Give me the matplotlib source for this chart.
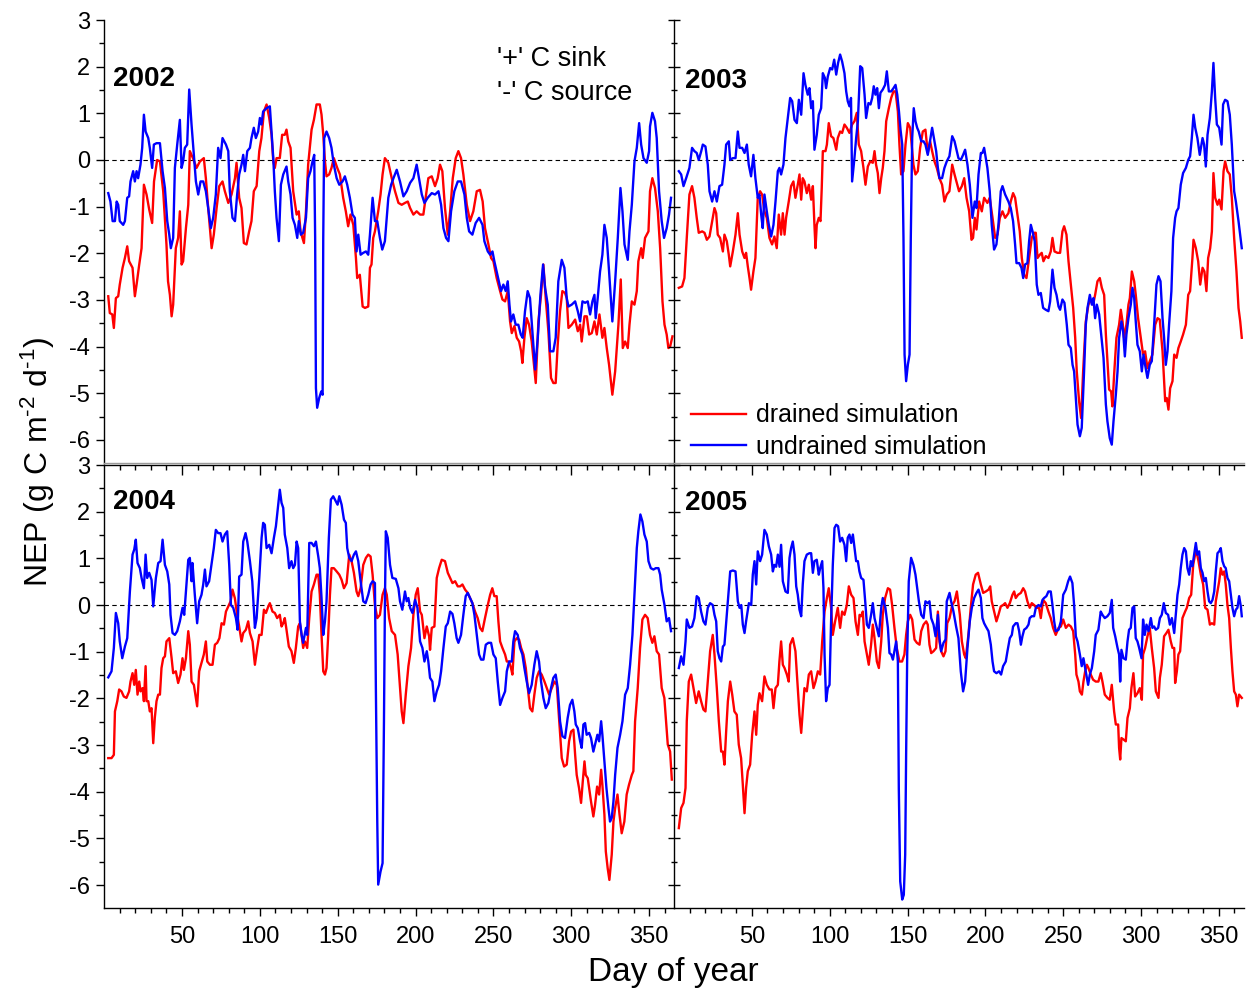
import matplotlib
matplotlib.use("Agg")
import matplotlib.pyplot as plt
from matplotlib.ticker import FixedLocator
import numpy as np

plt.rcParams['font.family'] = ['Liberation Sans', 'DejaVu Sans']
plt.rcParams['mathtext.fontset'] = 'custom'
plt.rcParams['mathtext.rm'] = 'Liberation Sans'
plt.rcParams['mathtext.default'] = 'regular'
plt.rcParams['axes.unicode_minus'] = False

years = ['2002', '2003', '2004', '2005']
series_labels = ['drained simulation', 'undrained simulation']
x_major = [50, 100, 150, 200, 250, 300, 350]
y_major = [-6, -5, -4, -3, -2, -1, 0, 1, 2, 3]

# ---------------- 2002 ----------------
d02_x = [2.6, 3.6, 5.2, 6.2, 7.5, 9.0, 10.0, 11.8, 13.3, 14.8, 16.0, 18.2, 19.7, 20.8, 22.5, 24.0, 25.5, 27.2, 28.9, 30.8,
         32.0, 34.0, 35.8, 37.9, 40.0, 41.0, 42.2, 43.3, 44.3, 46.0, 47.5, 48.6, 49.7, 50.7, 52.5, 54.0, 55.0, 57.0, 59.3, 61.5,
         64.0, 65.3, 66.8, 69.0, 70.4, 72.2, 73.9, 76.0, 77.5, 79.7, 81.8, 84.0, 85.0, 86.7, 88.2, 89.7, 91.4, 93.1, 94.6, 96.1,
         97.9, 99.6, 101.0, 102.6, 104.3, 106.0, 107.5, 108.6, 109.6, 110.7, 112.8, 114.3, 116.0, 117.1, 118.2, 119.7, 121.4,
         123.6, 125.0, 126.1, 128.3, 129.6, 131.0, 133.2, 134.7, 136.4, 138.5, 139.6, 140.7, 141.8, 142.8, 144.5, 146.0, 147.5,
         149.7, 151.4, 153.5, 155.2, 156.7, 158.2, 160.0, 161.7, 162.5, 164.2, 166.0, 167.5, 169.6, 170.7, 171.7, 172.8, 173.9,
         176.0, 177.5, 178.8, 180.3, 182.5, 184.7, 186.8, 189.0, 191.1, 193.2, 195.0, 196.5, 198.6, 200.7, 202.9, 205.0, 206.5,
         208.2, 210.4, 212.5, 214.2, 215.7, 217.2, 218.9, 220.7, 222.2, 223.9, 225.8, 227.5, 229.2, 230.7, 232.9, 235.0, 237.1,
         239.3, 241.4, 243.1, 244.6, 246.8, 248.5, 250.0, 252.1, 254.3, 255.8, 257.5, 259.2, 260.7, 261.8, 263.5, 265.0, 266.5,
         267.8, 268.6, 269.9, 271.4, 272.9, 274.6, 276.3, 277.2, 278.9, 280.6, 282.1, 283.6, 285.3, 287.0, 288.5, 290.0, 291.3,
         292.8, 294.3, 296.0, 297.1, 298.2, 300.3, 302.5, 304.2, 305.7, 306.7, 308.5, 310.0, 311.5, 313.2, 314.9, 316.4, 318.1,
         320.0, 321.3, 322.8, 324.3, 326.4, 328.2, 330.3, 331.8, 333.1, 334.6, 336.3, 337.4, 338.9, 340.6, 342.1, 343.1, 344.9,
         345.9, 347.4, 349.6, 350.6, 352.1, 353.8, 355.6, 357.1, 358.6, 359.9, 361.3, 362.4, 363.5, 365.0]
d02_y = [-2.92, -3.28, -3.31, -3.6, -2.96, -2.92, -2.67, -2.31, -2.1, -1.85, -2.17, -2.31, -2.92, -2.67, -2.24, -1.89, -0.53,
         -0.74, -1.06, -1.35, -0.46, 0.0, -0.03, -0.67, -1.81, -2.6, -2.89, -3.35, -3.1, -1.89, -1.67, -1.1, -2.24, -2.17, -1.46,
         -0.96, 0.19, 0.04, -0.17, -0.03, 0.04, -0.39, -1.03, -1.89, -1.6, -1.03, -0.56, -0.46, -0.67, -0.92, -0.74, -0.39, -0.06,
         -0.81, -1.03, -1.78, -1.81, -1.53, -1.31, -0.67, -0.56, 0.19, 0.47, 1.04, 1.19, 0.9, 0.54, -0.03, -0.17, 0.04, 0.04, 0.54,
         0.54, 0.65, 0.4, 0.26, -0.67, -1.17, -1.1, -1.53, -1.78, -1.1, -0.1, 0.65, 0.86, 1.19, 1.19, 0.97, 0.54, -0.03, -0.35,
         -0.31, -0.17, 0.04, -0.17, -0.31, -0.81, -1.1, -1.42, -1.17, -1.39, -2.1, -2.53, -2.46, -3.14, -3.17, -3.14, -2.31, -2.24,
         -1.67, -1.53, -1.1, -0.74, -0.31, 0.04, -0.06, -0.39, -0.67, -0.92, -0.96, -0.92, -0.89, -1.03, -1.17, -1.1, -1.17, -1.17,
         -0.81, -0.39, -0.35, -0.56, -0.39, -0.1, -0.24, -1.03, -1.6, -1.1, -0.39, 0.04, 0.19, 0.04, -0.31, -0.96, -1.31, -1.1,
         -0.67, -0.64, -0.89, -1.46, -1.81, -2.1, -2.17, -2.53, -2.81, -2.99, -3.03, -2.81, -3.46, -3.71, -3.56, -3.81, -3.89,
         -4.1, -4.35, -3.81, -3.39, -3.53, -3.89, -4.46, -4.78, -3.46, -2.89, -2.24, -2.96, -3.67, -4.67, -4.78, -4.78, -3.96,
         -3.24, -2.81, -2.85, -2.96, -3.6, -3.53, -3.42, -3.67, -3.53, -3.89, -3.35, -3.35, -3.74, -3.71, -3.46, -3.74, -3.31,
         -3.81, -3.6, -4.03, -4.39, -5.03, -4.53, -3.53, -2.56, -4.03, -3.89, -4.03, -3.53, -3.03, -3.1, -2.81, -2.17, -1.89,
         -2.1, -1.67, -1.53, -0.67, -0.39, -0.6, -1.1, -1.89, -3.03, -3.53, -3.74, -4.03, -4.0, -3.78]
u02_x = [2.6, 4.0, 5.4, 6.9, 8.0, 9.0, 10.0, 12.2, 13.3, 14.8, 16.0, 16.9, 18.6, 19.7, 20.8, 21.8, 23.3, 24.4, 25.5, 26.6,
         28.3, 29.3, 30.8, 31.9, 33.6, 35.8, 37.5, 39.0, 40.5, 41.8, 42.8, 44.3, 45.4, 46.9, 48.6, 49.7, 50.7, 51.8, 53.3, 54.6,
         56.1, 57.6, 58.9, 60.4, 61.9, 63.6, 65.3, 66.8, 68.5, 70.0, 71.7, 73.2, 74.7, 76.0, 78.2, 79.7, 80.7, 82.4, 84.0, 85.4,
         86.7, 88.2, 89.3, 90.4, 91.9, 93.6, 94.6, 96.1, 97.4, 98.9, 100.0, 101.0, 102.1, 104.3, 106.4, 107.5, 108.6, 109.6,
         110.7, 112.2, 113.5, 115.0, 117.1, 118.2, 119.7, 121.0, 122.5, 124.0, 125.0, 126.3, 127.8, 129.6, 131.0, 132.5, 133.8,
         134.9, 135.5, 136.0, 136.8, 138.1, 139.4, 140.3, 140.7, 141.3, 142.8, 144.5, 146.0, 147.5, 149.3, 151.0, 153.1, 154.6,
         156.1, 157.8, 159.5, 161.0, 162.1, 163.2, 164.7, 166.4, 168.1, 169.6, 170.7, 172.4, 173.9, 175.4, 177.1, 178.6, 180.3,
         182.5, 184.3, 185.8, 187.9, 190.0, 192.2, 194.3, 196.5, 198.6, 200.7, 202.2, 204.0, 205.7, 207.8, 210.4, 212.5, 214.7,
         216.4, 217.9, 219.6, 221.1, 222.8, 224.9, 227.1, 229.2, 231.4, 232.9, 234.4, 236.5, 238.6, 240.8, 243.0, 244.2, 246.4,
         247.9, 249.4, 250.6, 252.1, 253.6, 254.9, 256.4, 257.9, 259.2, 260.3, 261.3, 262.8, 264.3, 266.0, 267.6, 268.8, 270.3,
         272.0, 273.5, 275.0, 276.8, 278.5, 280.2, 281.9, 283.2, 284.9, 286.4, 288.5, 290.0, 291.7, 293.9, 295.6, 297.1, 298.2,
         300.3, 302.5, 304.2, 305.7, 307.2, 308.9, 310.6, 312.1, 313.6, 314.9, 315.7, 317.0, 318.5, 320.0, 321.3, 322.8, 324.3,
         326.4, 328.2, 329.9, 331.6, 332.9, 334.2, 336.3, 337.4, 338.9, 340.6, 342.1, 343.6, 344.9, 346.4, 348.5, 350.0, 350.6,
         352.1, 353.8, 354.9, 356.4, 358.1, 359.6, 361.3, 362.8, 364.1]
u02_y = [-0.71, -0.89, -1.31, -1.31, -0.89, -0.96, -1.31, -1.39, -1.31, -0.81, -0.78, -0.46, -0.24, -0.46, -0.24, -0.39, -0.1,
         0.26, 0.97, 0.61, 0.47, 0.26, -0.17, 0.33, 0.36, 0.36, -0.24, -0.6, -1.31, -1.6, -1.89, -1.67, -0.17, 0.33, 0.86, -0.17,
         -0.03, 0.26, 0.33, 1.51, 0.76, 0.11, -0.46, -0.74, -0.46, -0.46, -0.67, -1.03, -1.46, -1.24, -0.74, 0.26, 0.04, 0.47,
         0.33, 0.19, -0.67, -1.24, -1.31, -0.74, -0.31, -0.1, 0.11, -0.24, 0.19, 0.26, 0.47, 0.69, 0.47, 0.61, 0.9, 0.76, 1.04,
         1.11, 1.15, 0.61, 0.04, -0.67, -1.24, -1.74, -0.53, -0.31, -0.14, -0.46, -0.74, -1.24, -1.39, -1.67, -1.31, -1.6, -1.56,
         -1.24, -0.39, -0.24, -0.03, 0.11, -1.67, -4.89, -5.31, -5.1, -4.96, -5.03, -1.67, 0.47, 0.61, 0.47, 0.26, -0.1, -0.39,
         -0.53, -0.46, -0.35, -0.53, -0.81, -1.17, -1.24, -1.96, -1.6, -2.03, -1.99, -1.96, -2.03, -1.6, -0.81, -1.31, -1.31,
         -1.67, -1.92, -1.74, -0.81, -0.53, -0.39, -0.21, -0.46, -0.78, -0.67, -0.49, -0.39, -0.1, -0.39, -0.74, -0.92, -0.81,
         -0.71, -0.74, -0.67, -0.96, -1.46, -1.67, -1.74, -1.1, -0.67, -0.46, -0.46, -0.74, -1.24, -1.53, -1.6, -1.35, -1.24,
         -1.39, -1.74, -1.96, -2.03, -1.96, -2.17, -2.39, -2.6, -2.81, -2.67, -2.81, -2.6, -3.1, -3.46, -3.31, -3.53, -3.53,
         -3.74, -3.81, -3.24, -2.81, -2.96, -3.67, -4.49, -3.81, -2.89, -2.24, -2.74, -3.1, -4.1, -4.1, -3.81, -2.6, -2.14,
         -2.31, -2.96, -3.14, -3.1, -3.03, -3.24, -3.46, -3.03, -3.06, -3.03, -3.31, -3.03, -2.89, -3.39, -2.96, -2.39, -2.03,
         -1.39, -1.67, -2.39, -3.46, -2.6, -1.67, -0.6, -1.1, -1.81, -2.14, -1.53, -0.96, -0.03, 0.26, 0.79, 0.33, 0.04, -0.06,
         0.19, 0.72, 1.01, 0.83, 0.47, -0.67, -1.31, -1.67, -1.46, -1.17, -0.81]

# ---------------- 2003 ----------------
d03_x = [3.1, 5.2, 6.7, 8.2, 9.9, 11.6, 13.1, 14.6, 15.9, 18.1, 19.6, 21.1, 22.8, 24.5, 26.0, 27.1, 28.1, 29.6, 31.4, 32.4,
         33.9, 35.2, 36.1, 37.8, 39.5, 41.0, 42.1, 43.8, 45.3, 46.3, 47.4, 48.5, 49.5, 51.0, 52.3, 53.8, 55.3, 56.6, 58.1, 59.6,
         61.3, 63.0, 64.5, 66.0, 67.3, 68.8, 69.9, 71.0, 72.0, 73.7, 75.2, 76.7, 78.0, 79.5, 80.6, 81.7, 82.7, 83.8, 85.3, 86.6,
         88.1, 89.2, 90.2, 90.9, 91.7, 93.0, 94.1, 94.9, 95.6, 97.3, 98.2, 99.4, 100.9, 102.4, 104.2, 105.2, 106.7, 108.0, 109.5,
         111.0, 112.7, 114.4, 115.9, 117.4, 118.7, 120.2, 121.7, 123.0, 124.5, 126.0, 127.7, 128.8, 129.8, 130.9, 132.0, 133.1,
         134.1, 135.2, 136.3, 138.0, 139.5, 141.0, 142.3, 143.8, 144.8, 145.9, 147.4, 148.7, 150.2, 151.7, 153.0, 153.8, 155.1,
         156.6, 158.1, 159.8, 161.5, 163.0, 164.5, 165.8, 167.3, 168.8, 170.5, 172.2, 173.7, 175.2, 176.9, 178.7, 180.2, 183.1,
         184.9, 186.4, 187.9, 189.6, 191.1, 192.1, 193.2, 194.3, 196.0, 197.7, 199.2, 201.3, 202.8, 204.6, 206.3, 207.8, 209.3,
         211.0, 212.7, 214.8, 216.3, 217.8, 219.1, 220.6, 222.1, 223.4, 224.9, 226.4, 228.1, 229.8, 231.3, 232.4, 233.5, 235.0,
         236.2, 237.3, 238.8, 240.5, 242.0, 243.1, 244.4, 246.3, 248.0, 249.5, 250.6, 252.1, 253.4, 254.9, 256.4, 257.7, 258.7,
         260.2, 261.5, 262.8, 264.5, 266.2, 267.7, 269.2, 270.5, 272.0, 273.5, 274.8, 276.3, 277.4, 278.4, 279.5, 280.8, 281.6,
         282.7, 284.2, 285.9, 287.0, 288.1, 289.1, 290.6, 291.9, 292.8, 294.1, 295.6, 296.6, 298.1, 299.8, 301.3, 302.6, 304.1,
         305.6, 307.3, 309.1, 310.6, 312.0, 313.8, 315.5, 316.5, 317.6, 318.7, 320.2, 321.3, 322.8, 324.0, 325.5, 327.0, 328.8,
         330.3, 331.5, 333.0, 333.7, 335.2, 336.7, 338.0, 339.5, 340.7, 342.0, 343.1, 344.4, 345.5, 346.5, 347.6, 349.1, 350.2,
         351.7, 353.0, 354.0, 355.5, 357.0, 358.3, 359.8, 361.3, 362.6, 363.7, 364.7]
d03_y = [-2.74, -2.71, -2.53, -1.67, -0.74, -0.56, -0.81, -1.24, -1.56, -1.53, -1.56, -1.71, -1.64, -1.31, -1.03, -1.14, -1.6,
         -1.67, -1.96, -1.6, -1.74, -2.03, -2.28, -1.96, -1.6, -1.14, -1.6, -1.96, -2.1, -1.99, -2.28, -2.53, -2.78, -2.39, -2.1,
         -0.81, -0.67, -0.74, -1.1, -1.24, -1.67, -1.81, -1.64, -1.89, -1.17, -1.6, -1.14, -1.6, -1.24, -0.89, -0.56, -0.46,
         -0.81, -0.53, -0.31, -0.85, -0.39, -0.46, -0.71, -0.53, -0.85, -0.56, -1.39, -1.89, -1.39, -1.24, -1.31, -0.6, 0.19,
         0.19, 0.33, 0.79, 0.51, 0.47, 0.22, 0.47, 0.61, 0.58, 0.76, 0.69, 0.58, 0.76, 0.83, 1.01, 0.33, 0.19, -0.17, -0.53,
         -0.14, -0.03, -0.06, 0.19, -0.1, -0.28, -0.71, -0.39, -0.17, 0.19, 0.83, 1.11, 1.33, 1.47, 1.47, 1.04, 0.33, -0.31,
         -0.24, 0.33, 0.79, 0.69, 0.19, -0.1, -0.31, -0.24, 0.26, 0.61, 0.65, 0.15, 0.4, 0.19, -0.03, -0.17, -0.39, -0.53, -0.89,
         -0.74, -0.67, -0.1, -0.31, -0.67, -0.56, -0.39, -0.81, -1.1, -1.71, -1.67, -1.24, -1.49, -0.89, -1.1, -0.81, -0.92,
         -0.81, -1.24, -1.67, -1.6, -1.24, -1.1, -1.24, -1.14, -0.89, -0.71, -0.81, -1.17, -1.53, -2.1, -2.46, -2.53, -2.1,
         -1.67, -1.56, -1.56, -2.1, -2.03, -1.99, -2.17, -2.06, -2.1, -1.96, -1.67, -1.96, -1.99, -1.99, -1.53, -1.42, -1.6,
         -2.17, -2.67, -3.17, -3.81, -4.53, -5.17, -5.53, -4.53, -3.46, -3.1, -2.99, -3.1, -2.89, -2.6, -2.53, -2.74, -2.89,
         -3.74, -4.31, -4.92, -4.96, -5.28, -4.6, -3.81, -3.53, -3.21, -3.46, -3.81, -3.53, -3.1, -2.96, -2.39, -2.6, -2.89,
         -3.39, -3.81, -4.17, -4.1, -4.46, -4.31, -4.17, -3.53, -3.39, -3.42, -4.1, -5.17, -5.1, -5.35, -4.89, -4.74, -4.17,
         -4.24, -4.03, -3.89, -3.74, -3.53, -2.89, -2.81, -2.1, -1.71, -1.89, -2.17, -2.67, -2.31, -2.39, -2.81, -2.1, -1.89,
         -1.53, -0.28, -0.81, -0.96, -0.85, -1.06, -0.24, -0.03, -0.24, -0.31, -0.81, -1.67, -2.39, -3.17, -3.46, -3.81]
u03_x = [3.1, 4.6, 6.1, 7.8, 9.9, 11.6, 13.1, 14.6, 15.9, 17.5, 18.5, 20.2, 21.7, 22.8, 24.5, 26.0, 27.5, 29.2, 30.9, 32.4,
         33.5, 35.2, 36.1, 37.8, 39.5, 41.0, 42.1, 43.8, 45.3, 46.8, 48.0, 49.5, 51.0, 52.3, 53.8, 54.9, 56.0, 57.0, 58.1, 59.6,
         60.9, 62.4, 63.9, 65.2, 66.7, 67.7, 68.8, 70.3, 71.6, 73.1, 74.6, 75.9, 77.4, 78.9, 80.2, 81.7, 83.2, 84.4, 85.9, 87.0,
         88.1, 89.2, 90.2, 91.7, 93.0, 94.5, 95.6, 96.9, 97.7, 98.8, 100.3, 101.6, 102.9, 104.2, 105.4, 106.7, 108.0, 109.5,
         110.6, 111.6, 112.7, 113.7, 114.4, 115.9, 117.0, 118.1, 119.6, 120.9, 122.4, 123.4, 124.9, 126.2, 127.3, 128.3, 129.4,
         130.5, 131.6, 132.6, 134.1, 135.6, 136.7, 138.0, 139.5, 141.0, 142.3, 143.4, 144.5, 145.5, 146.6, 147.4, 148.1, 149.1,
         150.2, 151.3, 152.1, 153.0, 154.0, 155.1, 156.2, 157.2, 158.8, 160.3, 161.5, 163.0, 164.1, 165.8, 167.3, 168.4, 169.5,
         170.5, 172.2, 173.7, 175.2, 176.9, 178.7, 180.2, 182.7, 184.2, 185.7, 187.0, 188.5, 190.0, 191.7, 193.2, 194.3, 195.6,
         197.1, 198.1, 199.2, 200.3, 201.3, 202.8, 204.1, 205.6, 207.1, 208.4, 209.9, 211.0, 212.7, 214.8, 216.3, 217.8, 219.1,
         220.0, 221.7, 223.2, 224.3, 225.5, 227.0, 228.1, 229.2, 230.3, 231.7, 233.0, 234.1, 235.6, 237.1, 238.8, 240.5, 241.6,
         243.1, 244.4, 245.7, 247.0, 248.0, 249.5, 250.8, 252.3, 253.4, 254.9, 256.0, 257.0, 258.1, 259.2, 260.7, 261.9, 263.4,
         264.5, 265.6, 267.1, 268.4, 269.4, 270.5, 271.6, 273.1, 274.6, 275.9, 277.4, 278.4, 279.9, 281.2, 282.3, 283.8, 284.9,
         285.9, 287.4, 288.5, 289.6, 290.6, 291.9, 293.4, 294.5, 295.6, 296.6, 297.7, 299.2, 300.5, 301.6, 302.6, 304.1, 305.6,
         306.9, 308.4, 309.9, 311.2, 312.5, 313.8, 314.8, 315.9, 317.0, 318.0, 319.5, 320.6, 321.9, 322.8, 324.0, 325.5, 327.0,
         328.8, 330.3, 331.5, 332.6, 333.7, 334.8, 336.2, 337.7, 339.5, 340.5, 341.6, 342.7, 344.2, 345.5, 346.5, 347.6, 348.7,
         350.2, 351.7, 352.7, 354.0, 355.5, 357.0, 358.3, 359.8, 360.9, 362.6, 363.4, 364.7]
u03_y = [-0.24, -0.31, -0.56, -0.39, -0.17, 0.26, 0.19, 0.15, 0.0, 0.19, 0.33, 0.29, -0.1, -0.67, -0.89, -0.67, -0.89, -0.56,
         -0.53, -0.1, 0.33, 0.4, 0.0, 0.04, 0.04, 0.61, 0.26, 0.26, 0.15, 0.33, -0.1, -0.35, 0.11, -0.39, -0.81, -0.74, -1.17,
         -1.46, -0.74, -1.1, -1.39, -1.64, -1.39, -0.89, -0.24, -0.17, -0.31, -0.1, 0.47, 0.9, 1.33, 1.26, 0.86, 0.79, 1.29,
         0.97, 1.86, 1.61, 1.4, 1.54, 1.11, 1.26, 0.22, 0.54, 0.97, 1.11, 1.86, 1.76, 1.54, 1.79, 1.97, 1.94, 2.15, 1.83, 2.08,
         2.26, 2.11, 1.86, 1.47, 1.26, 1.15, 1.33, -0.46, 0.04, 0.47, 0.83, 2.01, 1.97, 1.4, 0.9, 1.22, 1.19, 1.33, 1.58, 1.4,
         1.54, 1.11, 1.44, 1.51, 1.61, 1.9, 1.47, 1.47, 1.54, 1.61, 1.4, 1.04, 0.65, 0.33, -1.67, -4.17, -4.74, -4.39, -4.17,
         -1.67, 0.47, 1.11, 0.83, 0.69, 0.61, 0.4, 0.4, 0.33, 0.11, 0.33, 0.69, 0.4, 0.19, -0.17, -0.39, -0.39, -0.17, -0.03,
         0.08, 0.51, 0.4, 0.04, 0.0, 0.11, 0.22, -0.1, -0.53, -1.24, -0.89, -1.03, -0.31, 0.15, 0.15, 0.26, 0.04, -0.17, -0.67,
         -1.39, -1.92, -1.81, -1.39, -0.67, -0.56, -0.74, -0.89, -1.03, -1.31, -1.81, -2.21, -2.21, -2.31, -2.53, -2.24, -2.21,
         -1.74, -1.39, -1.53, -1.74, -2.67, -2.89, -2.85, -3.17, -3.21, -3.24, -3.03, -2.35, -2.74, -2.89, -3.14, -3.21, -2.99,
         -3.06, -3.53, -3.96, -4.03, -4.39, -4.53, -5.1, -5.67, -5.92, -5.74, -4.53, -3.53, -3.17, -2.89, -3.1, -2.96, -3.39,
         -3.1, -3.31, -3.81, -4.24, -5.24, -5.6, -5.96, -6.1, -5.6, -5.03, -4.53, -3.81, -3.46, -3.67, -4.21, -3.74, -3.39,
         -3.1, -2.74, -2.96, -3.46, -3.96, -4.1, -4.53, -4.17, -4.39, -4.67, -4.39, -4.31, -3.53, -2.67, -2.49, -2.6, -3.39,
         -3.81, -4.39, -4.1, -3.53, -2.81, -1.67, -1.24, -1.1, -1.03, -0.53, -0.28, -0.17, 0.0, 0.08, 0.47, 0.97, 0.69, 0.47,
         0.11, 0.47, 0.33, -0.14, 0.54, 0.9, 1.47, 2.08, 1.33, 0.76, 0.69, 0.33, 1.19, 1.29, 1.26, 0.97, 0.33, -0.67, -0.89,
         -1.31, -1.53, -1.89]

# ---------------- 2004 ----------------
d04_x = [2.6, 4.7, 6.2, 6.9, 8.4, 9.6, 11.1, 12.6, 14.3, 16.0, 16.9, 18.2, 19.3, 20.3, 21.4, 22.5, 23.3, 24.6, 25.5, 26.6,
         27.2, 28.3, 29.3, 30.4, 31.5, 32.5, 33.6, 34.7, 35.8, 36.8, 37.9, 39.0, 40.0, 41.8, 43.3, 44.3, 46.0, 47.5, 49.0, 50.3,
         51.2, 52.5, 54.0, 55.0, 56.1, 57.6, 58.9, 59.7, 61.0, 62.5, 64.0, 65.3, 66.2, 67.9, 69.6, 71.1, 72.6, 74.0, 75.4, 76.9,
         78.2, 79.7, 81.2, 82.4, 83.9, 85.4, 86.7, 88.2, 89.3, 91.0, 92.5, 93.6, 95.3, 96.8, 98.3, 99.6, 101.1, 102.6, 103.9,
         105.4, 106.4, 108.1, 109.6, 111.1, 112.8, 113.9, 115.0, 116.0, 117.1, 118.6, 120.3, 121.8, 123.1, 124.6, 125.7, 126.8,
         127.8, 128.9, 130.4, 131.7, 133.2, 134.7, 136.4, 137.5, 138.5, 139.6, 140.7, 141.8, 142.8, 143.9, 145.0, 146.0, 147.5,
         149.3, 151.0, 152.5, 154.0, 155.7, 157.4, 158.9, 160.4, 162.1, 163.2, 164.7, 166.4, 168.1, 169.6, 171.1, 172.4, 173.9,
         175.4, 177.1, 178.8, 180.3, 181.5, 183.0, 184.7, 186.8, 188.5, 190.0, 191.1, 192.2, 193.7, 195.4, 197.1, 198.6, 200.1,
         201.4, 202.9, 204.0, 205.7, 207.2, 208.7, 209.3, 210.4, 212.1, 213.6, 215.1, 216.8, 218.9, 220.7, 222.2, 223.7, 225.4,
         227.1, 228.6, 230.1, 231.8, 233.5, 235.0, 236.5, 238.2, 239.9, 241.4, 242.9, 244.6, 246.4, 247.9, 249.3, 250.6, 252.1,
         253.2, 254.3, 255.8, 257.5, 258.6, 260.1, 261.3, 262.2, 263.5, 265.0, 266.5, 267.8, 269.3, 270.8, 272.1, 273.5, 275.0,
         276.3, 277.8, 279.3, 281.0, 282.8, 284.3, 285.8, 287.5, 289.2, 290.7, 291.7, 292.8, 293.9, 295.4, 297.1, 298.6, 299.9,
         301.4, 302.5, 303.5, 305.0, 306.3, 307.4, 308.5, 309.3, 310.6, 311.5, 312.7, 314.2, 315.3, 316.6, 317.9, 319.2, 320.0,
         321.3, 322.2, 323.4, 324.5, 326.0, 327.1, 328.2, 329.7, 331.0, 332.4, 334.1, 335.6, 337.1, 338.9, 339.9, 341.0, 342.7,
         344.2, 345.7, 347.4, 349.1, 350.6, 352.1, 353.4, 354.9, 356.4, 358.1, 359.8, 360.9, 362.0, 363.5, 364.6]
d04_y = [-3.28, -3.28, -3.21, -2.28, -2.06, -1.81, -1.85, -1.96, -1.99, -1.85, -1.64, -1.46, -1.71, -1.39, -1.92, -1.64, -1.85,
         -1.78, -2.06, -1.31, -2.06, -2.06, -2.28, -2.21, -2.96, -2.42, -2.06, -1.92, -1.92, -1.35, -1.14, -1.1, -0.78, -0.71,
         -1.14, -1.46, -1.42, -1.67, -1.49, -1.14, -1.39, -1.14, -0.56, -0.85, -1.64, -1.71, -1.99, -2.17, -1.42, -1.24, -1.06,
         -0.78, -1.21, -1.28, -1.28, -0.85, -0.81, -0.71, -0.39, -0.42, -0.14, -0.03, 0.08, 0.33, 0.15, -0.21, -0.46, -0.78,
         -0.6, -0.53, -0.35, -0.6, -0.78, -1.28, -0.92, -0.64, -0.64, -0.1, -0.17, -0.03, 0.04, -0.14, -0.17, -0.28, -0.21,
         -0.46, -0.39, -0.28, -0.53, -0.89, -0.99, -1.24, -0.92, -0.46, -0.39, -0.64, -0.92, -0.78, -0.92, -0.28, 0.29, 0.44,
         0.65, 0.65, 0.22, -0.64, -1.42, -1.49, -1.35, -0.64, 0.22, 0.79, 0.79, 0.72, 0.65, 0.54, 0.36, 0.47, 1.08, 0.94, 0.69,
         0.29, 0.19, 0.36, 0.86, 1.01, 1.08, 1.04, 0.65, 0.0, -0.28, -0.21, 0.22, 0.36, 0.22, -0.28, -0.56, -0.64, -1.06, -1.78,
         -2.28, -2.53, -1.92, -1.31, -0.92, -0.21, 0.22, 0.36, -0.14, -0.21, -0.71, -0.46, -0.67, -0.96, -0.49, -0.46, 0.58,
         0.79, 0.97, 0.94, 0.69, 0.58, 0.47, 0.51, 0.4, 0.4, 0.44, 0.33, 0.26, 0.15, 0.04, -0.14, -0.28, -0.49, -0.56, -0.28,
         0.0, 0.22, 0.36, 0.19, 0.19, -0.35, -0.78, -0.92, -1.06, -1.21, -1.21, -1.35, -1.49, -0.78, -0.71, -0.74, -0.92, -1.06,
         -1.35, -1.78, -2.21, -2.28, -1.92, -1.56, -1.42, -1.49, -1.64, -1.78, -1.92, -1.78, -1.64, -1.71, -2.21, -2.78, -3.28,
         -3.46, -3.42, -2.92, -2.71, -2.67, -3.21, -3.64, -3.92, -4.24, -3.78, -3.35, -3.64, -3.71, -3.92, -4.21, -4.53, -4.28,
         -3.89, -4.06, -3.53, -3.85, -4.49, -5.28, -5.64, -5.89, -5.35, -4.64, -4.35, -4.06, -4.49, -4.89, -4.64, -4.06, -3.85,
         -3.64, -3.56, -2.49, -1.78, -0.92, -0.31, -0.21, -0.28, -0.64, -0.81, -0.67, -0.99, -1.06, -1.78, -1.99, -2.49, -2.99,
         -3.14, -3.74]
u04_x = [2.6, 4.7, 6.2, 7.5, 9.0, 10.0, 11.6, 13.3, 14.8, 16.5, 18.2, 19.3, 20.3, 21.4, 22.9, 24.0, 25.5, 26.6, 27.6, 28.9,
         30.4, 31.5, 33.2, 34.7, 36.2, 37.5, 39.0, 40.5, 41.8, 42.6, 43.9, 45.4, 46.9, 48.6, 50.3, 51.4, 52.5, 54.0, 55.0, 56.1,
         56.7, 58.2, 59.7, 61.0, 62.5, 63.6, 64.7, 65.7, 67.4, 68.9, 70.4, 71.7, 73.2, 74.7, 76.0, 77.5, 79.0, 80.3, 81.4, 82.9,
         84.6, 85.7, 86.7, 88.2, 89.3, 90.8, 91.9, 93.6, 95.1, 96.8, 97.9, 99.6, 101.1, 102.1, 103.2, 104.3, 106.0, 107.5, 109.0,
         110.3, 111.8, 112.8, 113.9, 115.0, 116.0, 117.6, 118.8, 120.3, 121.4, 122.5, 123.6, 124.6, 125.7, 126.8, 127.8, 129.6,
         130.4, 131.7, 133.2, 134.7, 136.0, 137.5, 138.5, 139.6, 140.7, 141.8, 142.8, 144.3, 145.6, 147.1, 148.8, 149.9, 151.0,
         152.5, 154.0, 155.2, 156.1, 157.4, 158.9, 160.4, 161.7, 163.2, 164.7, 166.4, 167.9, 169.6, 171.1, 172.4, 173.9, 174.5,
         175.4, 176.0, 177.5, 178.8, 179.7, 180.3, 180.9, 182.1, 183.6, 185.1, 187.3, 189.0, 190.0, 191.5, 193.2, 194.3, 195.4,
         196.5, 198.0, 199.7, 201.2, 202.9, 204.4, 205.7, 207.2, 208.2, 209.3, 210.8, 212.1, 213.6, 215.1, 216.4, 217.9, 219.4,
         220.7, 222.2, 223.7, 224.9, 226.4, 227.5, 229.2, 230.7, 232.2, 233.5, 235.0, 236.5, 237.8, 239.3, 240.8, 242.1, 243.6,
         245.1, 246.8, 248.5, 250.0, 251.5, 252.8, 254.3, 255.8, 257.5, 258.6, 260.1, 261.8, 262.8, 263.9, 265.6, 267.1, 268.6,
         269.9, 271.4, 272.9, 274.6, 276.3, 277.8, 279.3, 280.6, 282.1, 283.6, 285.3, 287.0, 288.5, 290.0, 291.3, 292.8, 294.3,
         296.0, 297.7, 299.2, 300.7, 302.0, 302.9, 304.2, 305.7, 306.7, 307.8, 308.9, 309.9, 311.5, 312.7, 314.2, 315.3, 316.8,
         317.9, 319.2, 320.0, 321.3, 322.6, 323.9, 324.9, 326.0, 327.1, 328.2, 329.7, 331.4, 332.9, 334.6, 336.3, 337.8, 339.3,
         340.6, 342.1, 343.1, 344.4, 345.7, 347.0, 348.5, 349.6, 351.1, 352.8, 354.3, 356.0, 357.1, 358.1, 359.9, 361.3, 362.8,
         364.1]
u04_y = [-1.55, -1.42, -0.92, -0.17, -0.39, -0.78, -1.14, -0.89, -0.71, 0.29, 1.08, 1.19, 1.4, 0.9, 0.79, 0.58, 0.36, 1.08,
         0.58, 0.69, 0.54, -0.03, 0.58, 0.9, 0.94, 1.4, 0.86, 0.72, 0.44, -0.21, -0.6, -0.64, -0.56, -0.35, -0.06, -0.21, 0.29,
         0.97, 1.01, 0.51, 0.9, 0.22, -0.39, 0.08, 0.22, 0.44, 0.76, 0.4, 0.51, 0.86, 1.22, 1.61, 1.54, 1.54, 1.36, 1.51, 1.58,
         0.86, 0.0, -0.06, -0.28, -0.53, 0.61, 0.65, 1.36, 1.54, 1.36, 0.94, 0.51, -0.49, -0.28, 0.58, 1.44, 1.76, 1.72, 1.22,
         1.29, 1.11, 1.44, 1.69, 2.15, 2.47, 2.19, 2.08, 1.51, 1.22, 0.79, 0.94, 0.79, 0.86, 1.36, 1.22, -0.35, -0.64, -0.81,
         -0.49, -0.64, 1.33, 1.33, 1.26, 1.36, 1.04, 0.79, 0.15, -0.64, -0.35, 0.08, 1.44, 2.26, 2.33, 2.22, 2.15, 2.33, 2.15,
         1.83, 1.76, 1.22, 1.01, 0.94, 1.08, 1.15, 0.94, 0.51, 0.08, 0.04, 0.22, 0.44, 0.51, 0.47, -1.78, -4.64, -5.99, -5.71,
         -5.53, -2.49, 0.0, 1.58, 1.44, 0.86, 0.58, 0.56, 0.36, 0.08, -0.1, 0.29, 0.08, 0.15, -0.06, -0.17, 0.11, -0.06, -0.78,
         -0.92, -1.21, -0.99, -1.21, -1.56, -1.64, -2.06, -1.85, -1.71, -1.42, -0.92, -0.46, -0.39, -0.14, -0.19, -0.39, -0.71,
         -0.81, -0.64, -0.21, 0.19, 0.26, 0.15, 0.04, -0.21, -0.64, -1.06, -1.17, -1.17, -0.85, -0.81, -0.81, -1.06, -1.14,
         -1.64, -2.14, -1.99, -1.85, -1.42, -1.21, -1.21, -0.78, -0.56, -0.64, -0.92, -1.06, -1.35, -1.64, -1.89, -1.71, -1.28,
         -0.99, -1.21, -1.64, -1.99, -2.21, -2.1, -1.78, -1.56, -1.49, -1.78, -2.49, -2.81, -2.85, -2.42, -2.14, -2.03, -2.28,
         -2.56, -2.64, -2.92, -3.06, -2.56, -2.53, -2.78, -2.74, -2.85, -3.14, -2.99, -2.78, -2.92, -2.49, -2.78, -3.35, -3.92,
         -4.35, -4.64, -4.56, -4.21, -3.64, -3.06, -2.78, -2.49, -1.92, -1.78, -1.28, -0.64, 0.22, 1.22, 1.58, 1.94, 1.79, 1.51,
         1.36, 0.94, 0.79, 0.76, 0.79, 0.79, 0.65, 0.33, 0.0, -0.35, -0.28, -0.56]

# ---------------- 2005 ----------------
d05_x = [3.1, 4.6, 6.1, 7.4, 8.2, 9.5, 11.0, 12.5, 14.2, 15.9, 17.4, 18.9, 20.2, 21.7, 23.2, 24.9, 26.0, 27.5, 28.8, 30.3,
         31.4, 32.4, 33.5, 34.6, 36.1, 37.4, 38.8, 40.3, 41.6, 43.1, 44.2, 45.3, 46.3, 47.4, 48.9, 50.2, 51.7, 52.8, 53.8, 54.9,
         56.6, 58.1, 59.6, 61.3, 62.8, 63.9, 65.2, 66.7, 67.7, 68.8, 69.9, 71.0, 72.5, 73.7, 74.6, 76.3, 78.0, 79.5, 80.6, 81.7,
         82.7, 83.8, 85.3, 86.6, 88.1, 89.6, 90.9, 92.4, 93.9, 95.2, 96.7, 98.2, 99.4, 100.9, 102.0, 103.5, 105.2, 106.7, 108.0,
         109.5, 111.0, 112.3, 113.8, 115.3, 116.6, 118.1, 119.2, 120.2, 121.3, 122.4, 123.9, 125.1, 126.6, 127.7, 128.8, 130.3,
         131.6, 133.1, 134.1, 135.6, 137.4, 138.8, 140.1, 141.6, 143.1, 144.8, 146.5, 148.0, 149.1, 150.2, 151.7, 153.0, 154.5,
         156.0, 157.7, 158.8, 160.3, 162.0, 163.0, 164.1, 165.2, 166.7, 168.4, 169.5, 170.5, 171.6, 173.1, 174.4, 175.5, 177.0,
         178.7, 180.2, 181.7, 183.6, 184.9, 186.4, 187.4, 189.1, 190.6, 192.1, 193.8, 195.3, 197.1, 198.6, 200.3, 202.0, 203.1,
         204.1, 205.6, 207.1, 208.4, 209.9, 211.4, 212.7, 214.2, 215.7, 217.4, 218.5, 219.5, 221.0, 222.8, 224.3, 225.5, 227.0,
         228.5, 229.8, 231.3, 232.8, 234.5, 235.6, 237.1, 238.8, 240.5, 242.0, 243.5, 245.2, 247.0, 248.5, 250.0, 251.7, 253.4,
         254.9, 256.4, 257.7, 258.5, 259.8, 260.7, 262.0, 263.0, 264.1, 265.2, 266.2, 267.7, 269.2, 270.9, 272.6, 274.1, 275.2,
         276.7, 278.4, 279.9, 281.2, 282.7, 283.8, 285.3, 285.9, 286.6, 287.4, 288.7, 290.2, 291.3, 292.8, 293.8, 295.1, 296.2,
         297.7, 299.2, 300.5, 301.3, 302.6, 304.1, 305.6, 306.9, 308.4, 309.5, 311.2, 312.1, 313.3, 314.8, 316.3, 317.6, 319.1,
         320.2, 321.3, 321.9, 323.0, 324.0, 325.1, 326.6, 328.3, 329.4, 330.9, 332.2, 333.5, 334.7, 335.6, 336.9, 338.4, 339.9,
         341.2, 342.7, 344.2, 345.5, 347.0, 348.0, 349.1, 350.2, 351.2, 352.3, 353.4, 354.4, 355.5, 356.6, 357.7, 358.7, 359.8,
         360.9, 361.9, 363.0, 364.7]
d05_y = [-4.78, -4.35, -4.24, -3.92, -2.49, -1.64, -1.49, -1.78, -2.1, -1.85, -2.06, -2.24, -2.28, -1.64, -0.99, -0.64, -1.06,
         -1.78, -2.49, -3.14, -3.14, -3.42, -2.71, -2.06, -1.64, -1.92, -2.28, -2.35, -2.99, -3.28, -3.85, -4.46, -3.92, -3.56,
         -3.42, -2.78, -2.28, -2.78, -2.14, -1.89, -2.06, -1.53, -1.71, -1.81, -1.81, -2.21, -1.78, -1.71, -1.21, -0.78, -1.28,
         -1.35, -1.49, -1.64, -0.85, -0.71, -0.99, -1.78, -2.35, -2.74, -2.28, -1.78, -1.85, -1.49, -1.42, -1.78, -1.64, -1.42,
         -1.49, -0.78, -0.14, 0.15, 0.36, -0.06, -0.64, -0.35, -0.06, -0.49, -0.14, -0.21, 0.0, 0.4, 0.22, 0.15, -0.35, -0.64,
         -0.21, -0.24, -0.14, -0.78, -1.06, -1.28, -0.85, -0.42, -0.71, -1.21, -1.35, -0.78, -0.21, 0.15, 0.36, 0.33, 0.0,
         -0.49, -0.92, -1.21, -1.21, -1.06, -0.64, -0.35, -0.21, -0.31, -0.74, -0.81, -0.85, -0.56, -0.42, -0.35, -0.42, -0.85,
         -1.03, -0.99, -0.92, -0.14, -0.78, -0.99, -1.1, -0.99, -0.39, -0.28, 0.0, 0.08, 0.29, -0.21, -0.78, -1.06, -1.14,
         -0.64, -0.06, 0.44, 0.65, 0.69, 0.44, 0.26, 0.29, 0.33, 0.4, 0.08, -0.14, -0.35, -0.21, -0.03, 0.0, 0.04, -0.06, 0.04,
         0.22, 0.29, 0.15, 0.22, 0.26, 0.36, 0.29, 0.08, -0.06, 0.04, 0.0, -0.06, -0.06, -0.28, 0.11, 0.04, -0.14, -0.28, -0.49,
         -0.64, -0.49, -0.46, -0.31, -0.49, -0.42, -0.46, -0.56, -1.06, -1.49, -1.64, -1.85, -1.92, -1.64, -1.42, -1.28, -1.35,
         -1.49, -1.6, -1.64, -1.64, -1.46, -1.64, -1.92, -1.99, -2.03, -1.71, -2.28, -2.56, -2.56, -3.06, -3.31, -2.85, -2.88,
         -2.92, -2.42, -2.21, -1.78, -1.46, -1.96, -1.89, -1.78, -2.03, -1.06, -0.92, -0.67, -0.49, -0.92, -1.35, -1.85, -1.99,
         -1.56, -1.28, -0.67, -0.6, -0.53, -0.78, -0.92, -0.92, -1.67, -1.42, -1.06, -0.99, -0.28, -0.14, -0.06, 0.15, 0.22,
         0.86, 1.08, 1.15, 0.94, 0.65, 0.44, -0.06, -0.1, -0.42, -0.39, -0.42, 0.08, 0.29, 0.51, 0.79, 0.65, 0.72, 0.44, 0.0,
         -0.28, -0.92, -1.42, -1.85, -1.92, -2.17, -1.92, -1.99]
u05_x = [3.1, 4.6, 6.1, 7.4, 8.2, 9.9, 11.6, 13.1, 14.6, 15.9, 17.4, 18.9, 20.2, 21.7, 23.2, 24.9, 26.0, 27.1, 28.1, 29.2,
         30.3, 31.4, 32.4, 33.9, 35.2, 36.1, 37.8, 39.5, 41.0, 42.1, 43.2, 44.2, 45.3, 46.3, 48.1, 49.6, 50.6, 51.7, 52.8, 53.8,
         55.3, 56.6, 58.1, 59.6, 60.9, 62.4, 63.5, 64.5, 65.6, 66.7, 67.8, 68.8, 69.9, 71.6, 73.1, 74.2, 75.2, 76.3, 77.4, 78.5,
         79.5, 80.6, 81.7, 82.7, 83.8, 85.3, 87.0, 88.1, 89.2, 90.2, 91.7, 93.0, 93.9, 95.2, 96.0, 96.7, 97.7, 98.8, 99.9, 100.9,
         102.0, 103.1, 104.2, 105.4, 106.7, 108.0, 109.5, 110.6, 111.6, 112.7, 113.8, 114.9, 116.0, 117.0, 118.1, 119.1, 120.2,
         121.7, 123.0, 123.9, 125.1, 126.6, 127.7, 128.8, 130.3, 131.6, 133.1, 134.1, 135.8, 137.4, 138.4, 139.5, 140.6, 141.6,
         142.7, 143.8, 144.4, 145.3, 146.6, 147.6, 148.5, 149.1, 149.8, 150.8, 152.3, 153.8, 155.1, 156.2, 157.3, 158.8, 160.3,
         161.5, 163.0, 164.1, 165.2, 166.7, 168.0, 169.5, 170.5, 171.6, 173.1, 174.4, 175.2, 177.0, 178.0, 179.5, 181.2, 182.7,
         184.2, 185.7, 187.0, 188.5, 190.0, 191.3, 192.8, 194.3, 195.6, 197.1, 198.1, 199.2, 200.3, 202.0, 203.5, 204.6, 205.6,
         207.1, 208.8, 210.1, 211.4, 213.1, 214.2, 215.7, 217.0, 217.8, 219.5, 220.6, 221.7, 222.8, 223.8, 224.9, 226.4, 227.7,
         228.5, 229.8, 231.3, 232.4, 234.1, 235.6, 236.7, 237.7, 239.2, 240.5, 242.0, 243.1, 244.2, 245.2, 247.0, 248.5, 250.0,
         251.7, 253.2, 254.4, 255.9, 257.0, 258.1, 259.2, 260.7, 261.9, 263.0, 264.5, 266.0, 267.1, 268.4, 269.9, 270.9, 272.6,
         274.1, 275.2, 276.7, 278.4, 279.9, 281.2, 282.1, 283.4, 284.9, 285.9, 286.6, 287.4, 288.7, 290.2, 291.3, 292.3, 293.4,
         294.5, 295.6, 296.6, 297.7, 298.8, 300.3, 301.3, 302.4, 303.5, 304.8, 306.3, 307.3, 308.4, 309.5, 311.0, 312.1, 313.3,
         314.6, 315.9, 317.4, 318.5, 319.8, 321.3, 322.3, 323.4, 324.5, 325.5, 326.6, 327.7, 328.8, 329.8, 330.9, 332.0, 333.0,
         334.1, 335.2, 336.2, 337.3, 338.4, 339.5, 340.5, 341.6, 342.7, 343.7, 344.8, 345.9, 347.0, 348.0, 349.1, 350.2, 351.2,
         352.3, 353.4, 354.4, 355.5, 356.6, 357.7, 358.7, 359.8, 360.9, 361.9, 363.0, 364.1, 364.7]
u05_y = [-1.35, -1.1, -1.28, -0.78, -0.31, -0.49, -0.46, -0.28, 0.19, 0.15, -0.14, -0.35, -0.42, -0.06, 0.04, 0.0, -0.21,
         -0.35, -0.99, -1.14, -1.21, -0.89, -0.85, -0.21, 0.36, 0.72, 0.74, 0.72, 0.08, -0.06, 0.0, -0.42, -0.6, -0.35, 0.04,
         0.0, 0.65, 0.94, 0.44, 1.15, 0.94, 1.08, 1.61, 1.51, 1.26, 1.08, 0.72, 0.86, 0.82, 1.08, 0.82, 1.29, 0.51, 0.29, 0.26,
         1.01, 1.22, 1.36, 1.08, 0.4, 0.22, -0.1, -0.24, 0.44, 0.94, 1.08, 1.11, 1.11, 0.69, 0.94, 0.97, 0.65, 0.79, 0.94, 0.36,
         -1.06, -2.06, -1.78, -1.71, -0.35, 0.86, 1.65, 1.72, 1.69, 1.36, 1.44, 1.29, 0.94, 1.44, 1.51, 1.33, 1.51, 1.22, 0.94,
         0.94, 0.72, 0.58, 0.54, 0.0, -0.42, -0.49, -0.21, 0.04, -0.28, -0.49, -0.67, -0.06, 0.15, -0.06, -0.49, -1.03, -1.06,
         -1.17, -0.99, -0.78, -1.21, -3.93, -5.92, -6.31, -6.21, -5.35, -3.21, -1.06, 0.51, 1.01, 0.86, 0.65, 0.36, 0.08, -0.21,
         -0.28, 0.08, 0.04, 0.08, -0.28, -0.42, -0.67, -0.21, -0.71, -0.99, -0.81, -0.74, 0.08, 0.26, 0.08, -0.14, -0.46, -0.71,
         -1.42, -1.85, -1.64, -0.92, -0.35, -0.06, 0.15, 0.26, 0.33, 0.15, -0.28, -0.39, -0.46, -0.56, -0.85, -1.21, -1.42,
         -1.46, -1.42, -1.49, -1.31, -1.21, -0.99, -0.71, -0.64, -0.46, -0.39, -0.39, -0.56, -0.85, -0.67, -0.53, -0.49, -0.42,
         -0.28, -0.24, -0.24, -0.06, 0.0, -0.03, 0.11, 0.15, 0.19, 0.29, 0.29, 0.0, -0.35, -0.56, -0.53, -0.35, 0.22, 0.33, 0.51,
         0.61, 0.47, 0.0, -0.67, -0.78, -1.06, -1.31, -1.14, -1.42, -1.71, -1.49, -1.35, -0.99, -0.64, -0.53, -0.14, -0.21,
         -0.28, -0.24, -0.17, 0.11, -0.49, -0.67, -0.92, -1.06, -1.64, -0.96, -1.14, -1.17, -0.78, -0.53, -0.49, -0.06, -0.03,
         -0.71, -0.78, -0.92, -1.14, -0.31, -0.64, -0.42, -0.56, -0.28, -0.49, -0.46, -0.53, -0.49, -0.28, -0.21, 0.04, -0.17,
         -0.21, -0.42, -0.28, -0.6, -0.21, 0.22, 0.44, 0.79, 1.08, 1.22, 1.15, 0.79, 0.65, 0.94, 0.83, 1.08, 1.33, 1.08, 1.15,
         0.79, 0.69, 0.51, 0.58, 0.29, 0.08, 0.04, 0.11, 0.29, 0.72, 1.11, 1.15, 1.22, 0.94, 0.83, 0.79, 0.58, 0.51, 0.22, -0.06,
         -0.24, -0.1, -0.06, 0.19, -0.03, -0.24]

drained = [(d02_x, d02_y), (d03_x, d03_y), (d04_x, d04_y), (d05_x, d05_y)]
undrained = [(u02_x, u02_y), (u03_x, u03_y), (u04_x, u04_y), (u05_x, u05_y)]

# ---------------- figure ----------------
W, H = 1255, 993
fig = plt.figure(figsize=(W / 100, H / 100), dpi=100)

def fx(px):
    return px / W

def fy(py):
    return 1 - py / H

left_x0, right_x0, ax_w = 104.2, 674.0, 569.8
top_y0, top_y1 = 20.0, 463.3
bot_y0, bot_y1 = 465.0, 908.4

rects = [
    (fx(left_x0), fy(top_y1), ax_w / W, (top_y1 - top_y0) / H),
    (fx(right_x0), fy(top_y1), ax_w / W, (top_y1 - top_y0) / H),
    (fx(left_x0), fy(bot_y1), ax_w / W, (bot_y1 - bot_y0) / H),
    (fx(right_x0), fy(bot_y1), ax_w / W, (bot_y1 - bot_y0) / H),
]

RED = '#FF0000'
BLUE = '#0000FF'
TICK_FS = 17
y_minor = [v + 0.5 for v in range(-7, 3) if -6.5 < v + 0.5 < 3]
x_minor = [v for v in range(10, 366, 10) if v % 50 != 0]

axes = []
for i, r in enumerate(rects):
    ax = fig.add_axes(r)
    ax.patch.set_alpha(0)
    ax.set_xlim(0, 366)
    ax.set_ylim(-6.5, 3)
    ax.yaxis.set_major_locator(FixedLocator(y_major))
    ax.yaxis.set_minor_locator(FixedLocator(y_minor))
    ax.xaxis.set_major_locator(FixedLocator(x_major))
    ax.xaxis.set_minor_locator(FixedLocator(x_minor))
    for s in ax.spines.values():
        s.set_linewidth(1.0)
        s.set_color('black')
    ax.spines['top'].set_visible(False)
    ax.spines['right'].set_visible(False)

    ax.axhline(0, color='black', lw=0.8, ls=(0, (4, 3)), zorder=1)
    dx, dy = drained[i]
    ux, uy = undrained[i]
    ax.plot(dx, dy, color=RED, lw=1.7, zorder=2, label=series_labels[0])
    ax.plot(ux, uy, color=BLUE, lw=1.7, zorder=3, label=series_labels[1])

    is_left = i in (0, 2)
    is_top = i in (0, 1)
    if is_left:
        ax.tick_params(axis='y', which='major', direction='out', length=6, width=1,
                       labelsize=TICK_FS, pad=4, left=True, right=False)
        ax.tick_params(axis='y', which='minor', direction='out', length=3.5, width=1,
                       left=True, right=False)
    else:
        ax.tick_params(axis='y', which='major', direction='inout', length=9, width=1,
                       left=True, right=False, labelleft=False)
        ax.tick_params(axis='y', which='minor', direction='inout', length=5, width=1,
                       left=True, right=False, labelleft=False)
    if is_top:
        ax.spines['bottom'].set_color('#9a9a9a')
        ax.tick_params(axis='x', which='both', bottom=False, labelbottom=False)
    else:
        ax.tick_params(axis='x', which='major', direction='out', length=6, width=1,
                       labelsize=TICK_FS, pad=7)
        ax.tick_params(axis='x', which='minor', direction='out', length=3.5, width=1)
        sec = ax.secondary_xaxis('top')
        sec.xaxis.set_major_locator(FixedLocator(x_major))
        sec.xaxis.set_minor_locator(FixedLocator(x_minor))
        sec.tick_params(axis='x', which='major', direction='in', length=7, width=1,
                        labeltop=False)
        sec.tick_params(axis='x', which='minor', direction='in', length=3.5, width=1)
        sec.spines['top'].set_linewidth(1.0)
    axes.append(ax)

# year labels
year_pos = [(0.015, 0.867), (0.020, 0.862), (0.015, 0.917), (0.020, 0.915)]
for ax, yr, (px, py) in zip(axes, years, year_pos):
    ax.text(px, py, yr, transform=ax.transAxes, fontsize=20, fontweight='bold',
            ha='left', va='center')

# sink / source annotation
axes[0].text(0.689, 0.913, "'+' C sink", transform=axes[0].transAxes, fontsize=19.5,
             ha='left', va='center')
axes[0].text(0.689, 0.836, "'-' C source", transform=axes[0].transAxes, fontsize=19.5,
             ha='left', va='center')

# legend in 2003 panel
h, l = axes[1].get_legend_handles_labels()
axes[1].legend(h, l, loc='lower left', bbox_to_anchor=(0.03, 0.01), frameon=False,
               fontsize=18, handlelength=2.2, handletextpad=0.4, labelspacing=0.3,
               borderaxespad=0, borderpad=0)

fig.text(fx(38), fy(462), r'NEP (g C m$^{\text{-}2}$ d$^{\text{-}1}$)', rotation=90, fontsize=23,
         ha='center', va='center')
fig.text(fx(673), fy(972), 'Day of year', fontsize=24, ha='center', va='center')

fig.savefig('out.png', dpi=100)
